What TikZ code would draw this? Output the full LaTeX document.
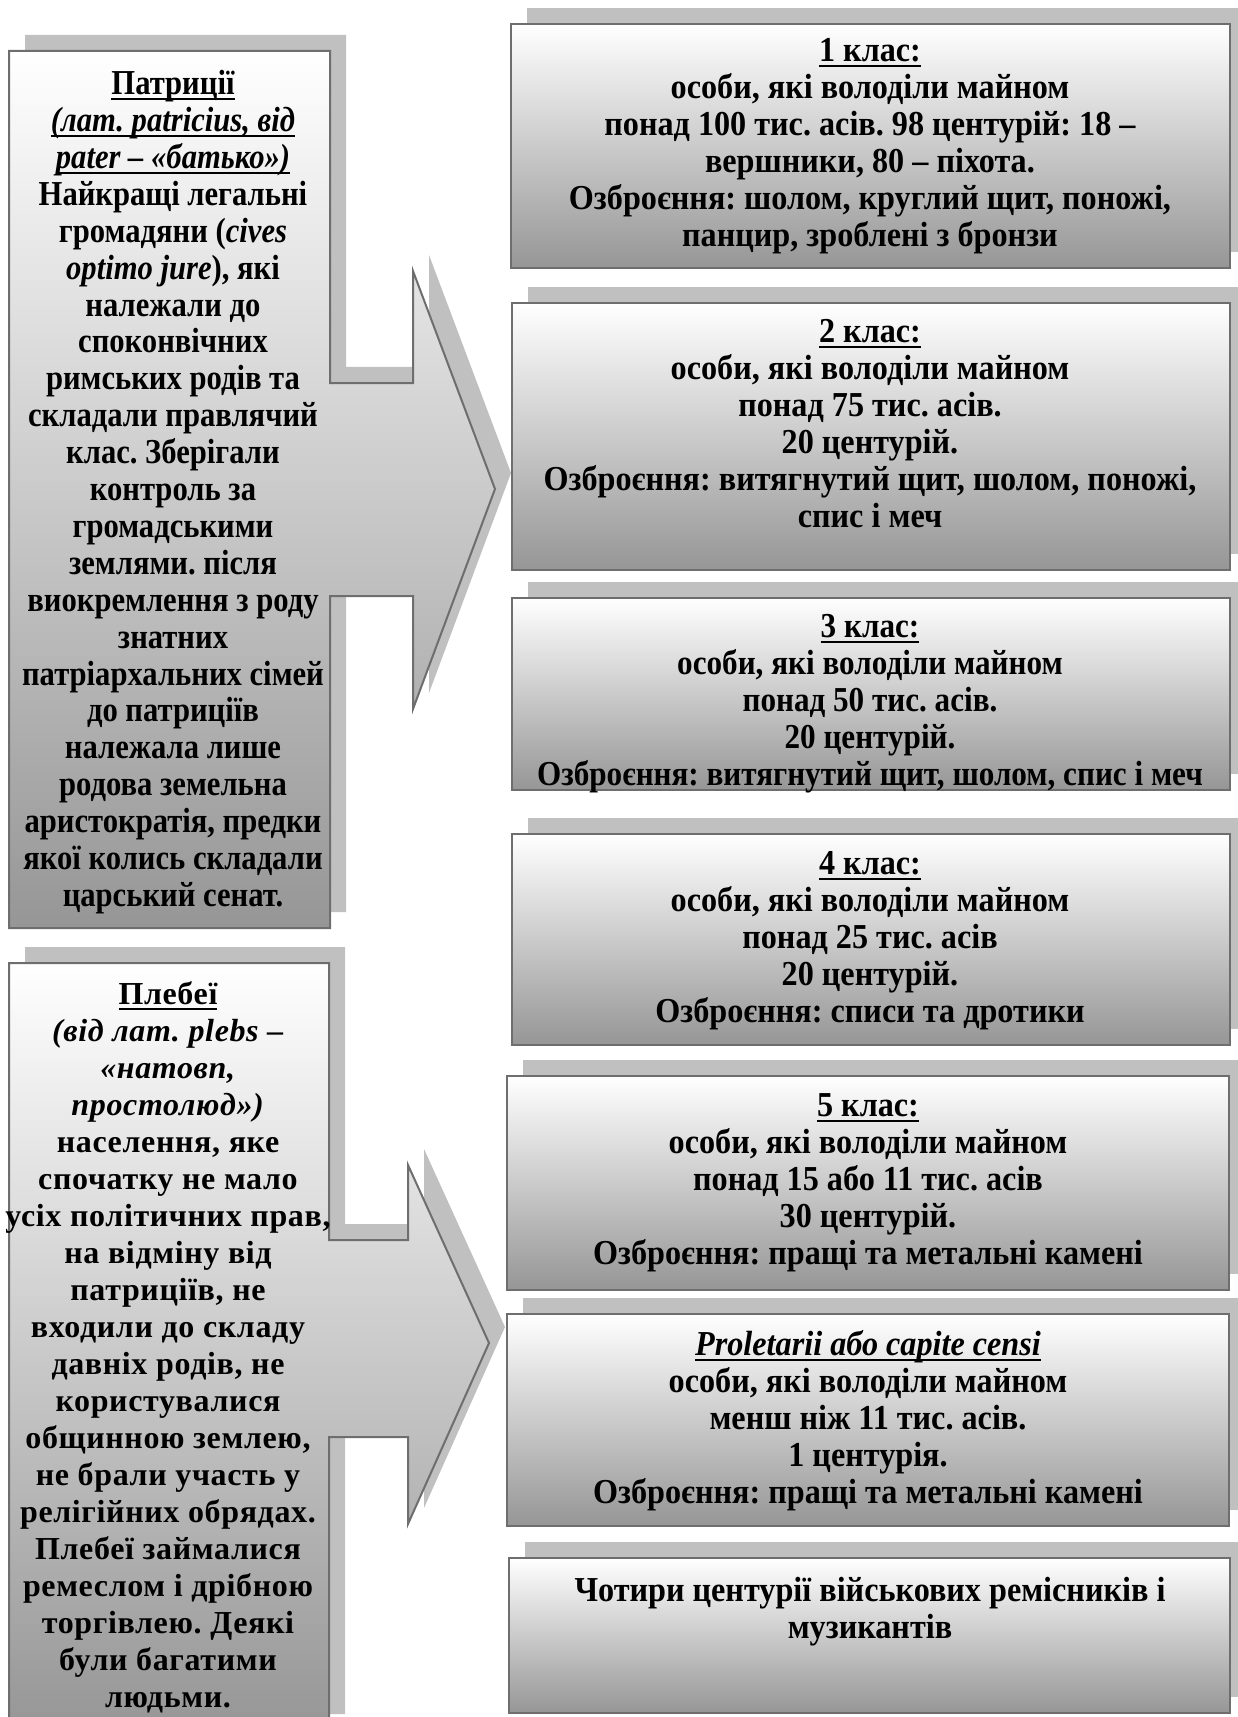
\documentclass[tikz,border=0pt]{standalone}
\usepackage{fontspec}
\setmainfont{Liberation Serif}
\newfontfamily\condfont[FakeStretch=0.92]{Liberation Serif}
\newfontfamily\condfontc[FakeStretch=0.89]{Liberation Serif}
\newfontfamily\condfontb[FakeStretch=0.875]{Liberation Serif}
\newsavebox{\ulbox}
\newcommand{\myul}[1]{\sbox{\ulbox}{#1}\leavevmode\rlap{\rule[-2.8pt]{\wd\ulbox}{1pt}}\usebox{\ulbox}}
\usetikzlibrary{shadows,fit}
\definecolor{edgegray}{HTML}{6E6E6E}
\definecolor{shadowgray}{HTML}{C0C0C0}
\definecolor{botgray}{HTML}{969696}
\begin{document}
\frenchspacing
\begin{tikzpicture}[x=0.5pt,y=-0.5pt,
  shapefill/.style={draw=edgegray, line width=1pt, top color=white, bottom color=botgray},
  shad/.style={drop shadow={shadow xshift=8pt, shadow yshift=8pt, fill=shadowgray, opacity=1}},
  rbox/.style={shapefill, shad, inner sep=0pt, rectangle},
  basetxt/.style={align=center, inner sep=0pt, anchor=north},
  txt/.style={basetxt, font=\condfont\bfseries\fontsize{17.5}{18.5}\selectfont},
  ctxt/.style={basetxt, font=\condfontc\bfseries\fontsize{17.5}{18.5}\selectfont},
  ptxt/.style={basetxt, font=\condfontb\bfseries\fontsize{17.5}{18.45}\selectfont},
  ltxt/.style={basetxt, font=\bfseries\fontsize{16}{18.5}\selectfont\addfontfeature{LetterSpace=2}},
]
\useasboundingbox (0,0) rectangle (1237,1717);

% left callout arrows
\path[shapefill, shad] (9,51) -- (330,51) -- (330,383) -- (413,383) -- (413,271) -- (495,489)
  -- (413,709) -- (413,596) -- (330,596) -- (330,928) -- (9,928) -- cycle;
\path[shapefill, shad] (9,963) -- (329,963) -- (329,1240) -- (408,1240) -- (408,1165) -- (489,1343)
  -- (408,1524) -- (408,1437) -- (329,1437) -- (329,1730) -- (9,1730) -- cycle;

% right boxes
\node[rbox, fit={(511,24)(1230,268)}] (b1) {};
\node[rbox, fit={(512,303)(1230,570)}] (b2) {};
\node[rbox, fit={(512,598)(1230,790)}] (b3) {};
\node[rbox, fit={(512,834)(1230,1045)}] (b4) {};
\node[rbox, fit={(507,1076)(1229,1290)}] (b5) {};
\node[rbox, fit={(507,1314)(1229,1526)}] (b6) {};
\node[rbox, fit={(509,1558)(1230,1713)}] (b7) {};

% left texts
\node[ptxt] (patr) at (173,70) {\myul{Патриції}\\
\myul{\textit{(лат. patricius, від}}\\
\myul{\textit{pater – «батько»)}}\\
Найкращі легальні\\
громадяни (\textit{cives}\\
\textit{optimo jure}), які\\
належали до\\
споконвічних\\
римських родів та\\
складали правлячий\\
клас. Зберігали\\
контроль за\\
громадськими\\
землями. після\\
виокремлення з роду\\
знатних\\
патріархальних сімей\\
до патриціїв\\
належала лише\\
родова земельна\\
аристократія, предки\\
якої колись складали\\
царський сенат.};

\node[ltxt] (pleb) at (168,981) {\myul{Плебеї}\\
\textit{(від лат. plebs –}\\
\textit{«натовп,}\\
\textit{простолюд»)}\\
населення, яке\\
спочатку не мало\\
усіх політичних прав,\\
на відміну від\\
патриціїв, не\\
входили до складу\\
давніх родів, не\\
користувалися\\
общинною землею,\\
не брали участь у\\
релігійних обрядах.\\
Плебеї займалися\\
ремеслом і дрібною\\
торгівлею. Деякі\\
були багатими\\
людьми.};

% right texts
\node[txt] (t1) at (870,38) {\myul{1 клас:}\\
особи, які володіли майном\\
понад 100 тис. асів. 98 центурій: 18 –\\
вершники, 80 – піхота.\\
Озброєння: шолом, круглий щит, поножі,\\
панцир, зроблені з бронзи};
\node[txt] (t2) at (870,319) {\myul{2 клас:}\\
особи, які володіли майном\\
понад 75 тис. асів.\\
20 центурій.\\
Озброєння: витягнутий щит, шолом, поножі,\\
спис і меч};
\node[ctxt] (t3) at (870,614) {\myul{3 клас:}\\
особи, які володіли майном\\
понад 50 тис. асів.\\
20 центурій.\\
Озброєння: витягнутий щит, шолом, спис і меч};
\node[txt] (t4) at (870,851) {\myul{4 клас:}\\
особи, які володіли майном\\
понад 25 тис. асів\\
20 центурій.\\
Озброєння: списи та дротики};
\node[txt] (t5) at (868,1093) {\myul{5 клас:}\\
особи, які володіли майном\\
понад 15 або 11 тис. асів\\
30 центурій.\\
Озброєння: пращі та метальні камені};
\node[txt] (t6) at (868,1330) {\myul{\textit{Proletarii або capite censi}}\\
особи, які володіли майном\\
менш ніж 11 тис. асів.\\
1 центурія.\\
Озброєння: пращі та метальні камені};
\node[txt] (t7) at (870,1577) {Чотири центурії військових ремісників і\\
музикантів};
\end{tikzpicture}
\end{document}
